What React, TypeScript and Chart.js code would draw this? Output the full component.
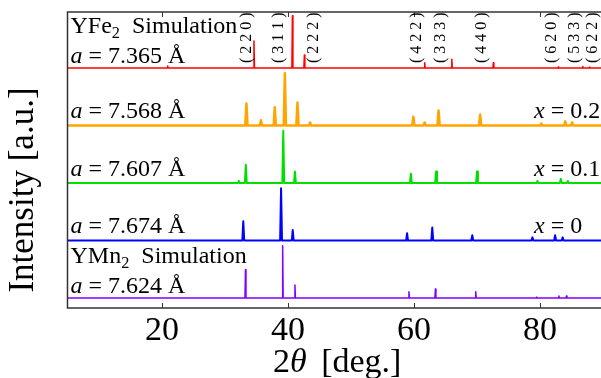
import React, { useEffect, useRef } from "react";
import { Chart, registerables } from "chart.js";

Chart.register(...registerables);

// ---- axis ranges / ticks ----
const X_MIN = 5;
const X_MAX = 90;
const Y_MIN = -0.174;
const Y_MAX = 4.976;
const xTicks = [20, 40, 60, 80];

// ---- series (peak positions in 2θ deg, relative intensities %) ----
const ymn2SimPos = [33.25, 39.15, 41.1, 59.2, 63.4, 69.8, 79.5, 83.0, 84.2];
const ymn2SimInt = [54, 100, 25, 12, 17, 12, 2, 4, 4];

const x0Pos = [32.9, 38.9, 40.75, 58.9, 62.9, 69.25, 78.8, 82.4, 83.6];
const x0Int = [37, 100, 20, 14, 25, 10, 6, 10, 6];

const x01Pos = [32.2, 33.3, 39.25, 41.1, 59.5, 63.5, 70.0, 79.6, 83.3, 84.4];
const x01Int = [4, 35, 100, 22, 18, 22, 22, 4, 8, 4];

const x02Pos = [33.4, 35.7, 37.9, 39.5, 41.5, 43.5, 59.9, 61.7, 63.9, 70.5, 80.2, 84.0, 85.1];
const x02Int = [42, 10, 35, 100, 44, 6, 17, 6, 29, 21, 4, 8, 6];

const yfe2SimPos = [20.9, 34.6, 40.7, 42.6, 61.7, 66.0, 72.6, 82.9, 86.8, 87.9];
const yfe2SimInt = [4, 52, 100, 25, 10, 17, 10, 2, 3, 2];

// ---- labels ----
const hklLabels = ["( 2 2 0 )", "( 3 1 1 )", "( 2 2 2 )", "( 4 2 2 )", "( 3 3 3 )", "( 4 4 0 )", "( 6 2 0 )", "( 5 3 3 )", "( 6 2 2 )"];
const hklPos = [33.5, 38.6, 44.1, 60.5, 64.3, 70.8, 81.9, 85.6, 88.4];

const seriesOffsets = [0, 1, 2, 3, 4];
const seriesColors = ["#7f00ff", "#0000ff", "#00e000", "#ffa500", "#ff0000"];
const seriesWidths = [1.5, 2, 2, 2.5, 1.5];
const latticeValues = ["7.624", "7.674", "7.607", "7.568", "7.365"];
const compositionValues = ["", "0", "0.1", "0.2", ""];
const simCompounds = ["YMn", "", "", "", "YFe"];

const FONT = "'Liberation Serif', 'Times New Roman', serif";
const INT_SCALE = 0.91 / 100;

function buildSpectrum(pos: number[], ints: number[], offset: number, hw: number) {
  const pts: { x: number; y: number }[] = [{ x: X_MIN, y: offset }];
  pos.forEach((p, i) => {
    pts.push({ x: p - hw, y: offset });
    pts.push({ x: p, y: offset + ints[i] * INT_SCALE });
    pts.push({ x: p + hw, y: offset });
  });
  pts.push({ x: X_MAX, y: offset });
  return pts;
}

type Seg = { t: string; italic?: boolean; sub?: boolean; dx?: number };

function drawRich(ctx: CanvasRenderingContext2D, x: number, y: number, segs: Seg[], size: number) {
  let cx = x;
  ctx.textBaseline = "alphabetic";
  ctx.textAlign = "left";
  for (const s of segs) {
    const sz = s.sub ? size * 0.68 : size;
    ctx.font = `${s.italic ? "italic " : ""}${sz}px ${FONT}`;
    cx += s.dx || 0;
    ctx.fillText(s.t, cx, s.sub ? y + size * 0.2 : y);
    cx += ctx.measureText(s.t).width;
  }
}

const annotPlugin = {
  id: "annot",
  afterDraw(chart: any) {
    const { ctx, chartArea } = chart;
    const xs = chart.scales.x;
    const ys = chart.scales.y;
    const { left, right, top, bottom } = chartArea;
    ctx.save();
    // frame
    ctx.strokeStyle = "#333";
    ctx.lineWidth = 1.5;
    ctx.beginPath();
    ctx.moveTo(left, top);
    ctx.lineTo(right, top);
    ctx.lineTo(right, bottom);
    ctx.lineTo(left, bottom);
    ctx.closePath();
    ctx.stroke();
    ctx.lineWidth = 1;
    xTicks.forEach((v) => {
      const px = Math.round(xs.getPixelForValue(v)) + 0.5;
      ctx.beginPath();
      ctx.moveTo(px, bottom);
      ctx.lineTo(px, bottom - 5);
      ctx.moveTo(px, top);
      ctx.lineTo(px, top + 5);
      ctx.stroke();
    });

    ctx.fillStyle = "#000";
    const size = 24;
    seriesOffsets.forEach((off, i) => {
      const by = ys.getPixelForValue(off);
      const gap = simCompounds[i] ? 5 : 7.5;
      drawRich(ctx, left + 3, by - gap, [{ t: "a", italic: true }, { t: ` = ${latticeValues[i]} Å` }], size);
      if (simCompounds[i]) {
        drawRich(ctx, left + 3, by - gap - 30, [{ t: simCompounds[i] }, { t: "2", sub: true }, { t: "  Simulation" }], size);
      }
      if (compositionValues[i]) {
        drawRich(ctx, xs.getPixelForValue(80) - 6, by - gap, [{ t: "x", italic: true }, { t: ` = ${compositionValues[i]}` }], size);
      }
    });

    // hkl labels (rotated)
    const redBase = ys.getPixelForValue(seriesOffsets[4]);
    ctx.font = `16px ${FONT}`;
    ctx.textBaseline = "middle";
    ctx.textAlign = "left";
    hklLabels.forEach((lab, i) => {
      const px = xs.getPixelForValue(hklPos[i]);
      ctx.save();
      ctx.translate(px, redBase - 5);
      ctx.rotate(-Math.PI / 2);
      ctx.fillText(lab, 0, 0);
      ctx.restore();
    });

    // axis titles
    ctx.save();
    ctx.translate(24, 190);
    ctx.rotate(-Math.PI / 2);
    ctx.font = `35px ${FONT}`;
    ctx.textAlign = "center";
    ctx.textBaseline = "middle";
    ctx.fillText("Intensity [a.u.]", 0, 0);
    ctx.restore();

    drawRich(ctx, 273, 372, [{ t: "2" }, { t: "θ", italic: true }, { t: " [deg.]", dx: 6 }], 34);
    ctx.restore();
  },
};

export default function App() {
  const ref = useRef<HTMLCanvasElement>(null);
  useEffect(() => {
    const canvas = ref.current!;
    const spectra = [
      buildSpectrum(ymn2SimPos, ymn2SimInt, seriesOffsets[0], 0.08),
      buildSpectrum(x0Pos, x0Int, seriesOffsets[1], 0.15),
      buildSpectrum(x01Pos, x01Int, seriesOffsets[2], 0.15),
      buildSpectrum(x02Pos, x02Int, seriesOffsets[3], 0.18),
      buildSpectrum(yfe2SimPos, yfe2SimInt, seriesOffsets[4], 0.08),
    ];
    const chart = new Chart(canvas, {
      type: "line",
      data: {
        datasets: spectra.map((d, i) => ({
          data: d,
          borderColor: seriesColors[i],
          borderWidth: seriesWidths[i],
          pointRadius: 0,
          tension: 0,
          fill: false,
          borderJoinStyle: "round" as const,
        })),
      },
      options: {
        responsive: false,
        animation: false,
        parsing: false as any,
        layout: { padding: { left: 67.5, right: 7, top: 12, bottom: 0 } },
        plugins: { legend: { display: false }, tooltip: { enabled: false } },
        scales: {
          x: {
            type: "linear",
            min: X_MIN,
            max: X_MAX,
            grid: { display: false, drawTicks: false },
            border: { display: false },
            afterBuildTicks: (s: any) => {
              s.ticks = xTicks.map((v) => ({ value: v }));
            },
            afterFit: (s: any) => {
              s.height = 70;
            },
            ticks: {
              font: { family: FONT, size: 34 },
              color: "#000",
              padding: 3,
              maxRotation: 0,
              autoSkip: false,
            },
          },
          y: { type: "linear", min: Y_MIN, max: Y_MAX, display: false },
        },
      },
      plugins: [annotPlugin],
    });
    return () => chart.destroy();
  }, []);
  return (
    <div style={{ position: "fixed", left: 0, top: 0, width: 601, height: 378, overflow: "hidden", background: "#fff" }}>
      <canvas ref={ref} width={610} height={378} style={{ display: "block", width: 610, height: 378 }} />
    </div>
  );
}
